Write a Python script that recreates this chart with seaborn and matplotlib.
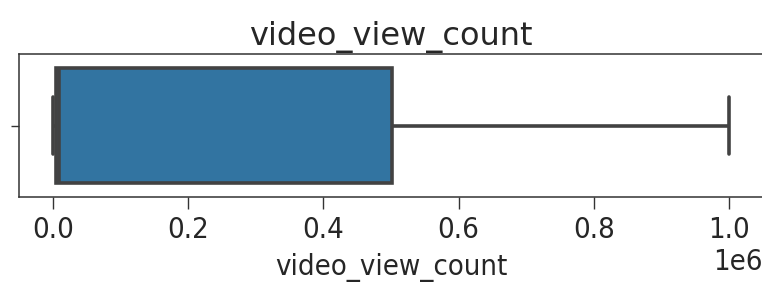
import matplotlib
matplotlib.use("Agg")
import matplotlib.pyplot as plt
import seaborn as sns
import pandas as pd

# five-number summary (views)
view_min = 0
view_q1 = 4400
view_median = 9000
view_q3 = 502000
view_max = 999000

video_view_count = [view_min, view_q1, view_median, view_q3, view_max]
x_ticks = [0.0, 0.2e6, 0.4e6, 0.6e6, 0.8e6, 1.0e6]

df = pd.DataFrame({"video_view_count": video_view_count})

sns.set_style("ticks")
plt.rcParams["font.family"] = ["DejaVu Sans"]
plt.rcParams["font.stretch"] = "condensed"

fig = plt.figure(figsize=(7.62, 2.84), dpi=100)
ax = fig.add_axes([19 / 762, 1 - 197 / 284, (763 - 19) / 762, (197 - 54) / 284])

sns.boxplot(data=df, x="video_view_count", color="#3274a1", saturation=1,
            linecolor="#424242", linewidth=2.6, width=0.8, ax=ax)

ax.set_xlim(-0.05e6, 1.05e6)
ax.set_ylim(0.5, -0.5)
ax.set_xticks(x_ticks)
ax.set_yticks([0])
ax.set_yticklabels([""])
ax.tick_params(axis="x", labelsize=21, length=8.5, width=1.0, pad=5,
               color="#333333", labelcolor="#262626")
ax.tick_params(axis="y", length=5.5, width=1.0, color="#333333")
ax.xaxis.get_offset_text().set_fontsize(21)
ax.xaxis.get_offset_text().set_color("#262626")
ax.set_xlabel("video_view_count", fontsize=21, labelpad=7, color="#262626")
ax.set_title("video_view_count", fontsize=23, pad=6.5, color="#262626",
             fontstretch="normal")
for side in ["top", "left", "bottom", "right"]:
    ax.spines[side].set_linewidth(1.1)
    ax.spines[side].set_color("#333333")

fig.savefig("out.png", dpi=100)
